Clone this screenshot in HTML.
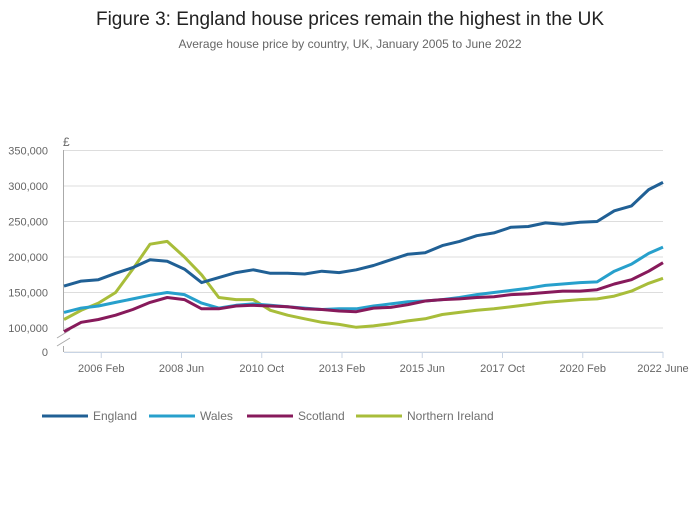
<!DOCTYPE html>
<html><head><meta charset="utf-8"><style>
body{margin:0;background:#fff;font-family:"Liberation Sans",sans-serif;}
svg text{font-family:"Liberation Sans",sans-serif;}
</style></head><body>
<svg id="chart" width="700" height="502" viewBox="0 0 700 502" xmlns="http://www.w3.org/2000/svg">
<text x="350" y="25" text-anchor="middle" font-size="19" fill="#222">Figure 3: England house prices remain the highest in the UK</text>
<text x="350" y="48" text-anchor="middle" font-size="12" fill="#666">Average house price by country, UK, January 2005 to June 2022</text>
<text x="63" y="146" font-size="12" fill="#666">£</text>
<g id="grid"></g><g id="series"></g><g id="legend"></g>
</svg>
<script>
const months=[0,6,12,18,24,30,36,42,48,54,60,66,72,78,84,90,96,102,108,114,120,126,132,138,144,150,156,162,168,174,180,186,192,198,204,209];
const england=[159,166,168,177,185,196,194,183,164,171,178,182,177,177,176,180,178,182,188,196,204,206,216,222,230,234,242,243,248,246,249,250,265,272,295,305];
const wales=[122,128,131,136,141,146,150,147,135,128,132,134,132,130,128,126,127,127,131,134,137,138,140,143,147,150,153,156,160,162,164,165,180,190,205,214];
const scotland=[95,108,112,118,126,136,143,140,127,127,131,132,131,130,127,126,124,123,128,129,133,138,140,141,143,144,147,148,150,152,152,154,162,168,180,192];
const nireland=[112,125,135,150,183,218,222,200,175,143,140,140,125,118,113,108,105,101,103,106,110,113,119,122,125,127,130,133,136,138,140,141,145,152,163,170];
const yTicks=[100,150,200,250,300,350];
const yTickLabels=["100,000","150,000","200,000","250,000","300,000","350,000"];
const xTickMonths=[13,41,69,97,125,153,181,209];
const xTickLabels=["2006 Feb","2008 Jun","2010 Oct","2013 Feb","2015 Jun","2017 Oct","2020 Feb","2022 June"];
const seriesNames=["England","Wales","Scotland","Northern Ireland"];
const seriesColors=["#206095","#27a0cc","#871a5b","#a8bd3a"];
const seriesData=[england,wales,scotland,nireland];

const NS="http://www.w3.org/2000/svg";
const X=m=>64+m*(599/209);
const Y=v=>328-(v-100)*35.5/50;
function mk(t,a,p){const e=document.createElementNS(NS,t);for(const k in a)e.setAttribute(k,a[k]);p.appendChild(e);return e;}
const grid=document.getElementById('grid');
yTicks.forEach((v,i)=>{
  const l=mk('line',{x1:64,x2:663,y1:Y(v),y2:Y(v),stroke:'#ddd','stroke-width':1},grid);
  
  
  const t=mk('text',{x:48,y:Y(v)+4,'text-anchor':'end','font-size':11,fill:'#666'},grid);
  t.textContent=yTickLabels[i];
  
  
});
let l0=mk('line',{x1:64,x2:663,y1:352,y2:352,stroke:'#ddd'},grid);


let t0=mk('text',{x:48,y:356,'text-anchor':'end','font-size':11,fill:'#666'},grid);t0.textContent="0";


let ya=mk('path',{d:'M63.5 150 V331 M63.5 346 V352',stroke:'#aaa',fill:'none'},grid);


let br=mk('path',{d:'M57 338 L70 330 M57 346 L70 338',stroke:'#aaa',fill:'none'},grid);


let xa=mk('line',{x1:64,x2:663,y1:352.5,y2:352.5,stroke:'#c8d4e4'},grid);


xTickMonths.forEach((m,i)=>{
  const tk=mk('line',{x1:X(m),x2:X(m),y1:352,y2:358,stroke:'#c8d4e4'},grid);
  
  
  const t=mk('text',{x:X(m),y:372,'text-anchor':'middle','font-size':11,fill:'#666'},grid);
  t.textContent=xTickLabels[i];
  
  
});
const sg=document.getElementById('series');
[3,1,2,0].forEach(i=>{
  const pts=seriesData[i].map((v,j)=>X(months[j]).toFixed(1)+','+Y(v).toFixed(1)).join(' ');
  const p=mk('polyline',{points:pts,fill:'none',stroke:seriesColors[i],'stroke-width':3,'stroke-linejoin':'round'},sg);
  
  
});
const lg=document.getElementById('legend');
const lx=[42,149,247,356];
seriesNames.forEach((n,i)=>{
  const g=mk('g',{},lg);
  
  
  mk('line',{x1:lx[i],x2:lx[i]+46,y1:416,y2:416,stroke:seriesColors[i],'stroke-width':3},g);
  const t=mk('text',{x:lx[i]+51,y:420,'font-size':12,fill:'#707070'},g);
  t.textContent=n;
});
</script>
</body></html>
